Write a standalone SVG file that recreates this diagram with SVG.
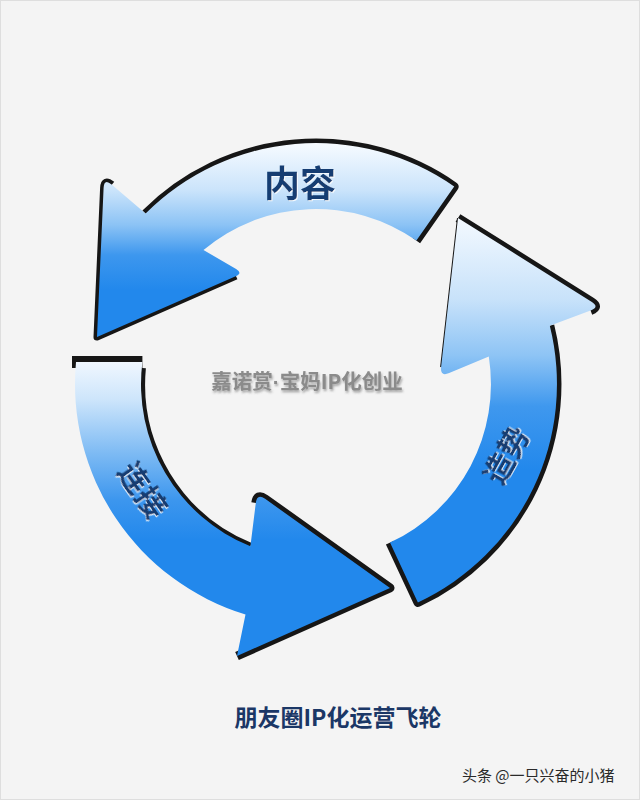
<svg xmlns="http://www.w3.org/2000/svg" width="640" height="800" viewBox="0 0 640 800">
  <style>
    .shadow { fill: none; stroke: #161616; stroke-linejoin: round; stroke-linecap: butt; }
    .label { font-family: "Noto Sans CJK SC", "Noto Sans", sans-serif; font-weight: bold; fill: #123d72; text-anchor: middle; }
    .center { font-family: "Noto Sans CJK SC", "Noto Sans", sans-serif; font-weight: bold; fill: #8b8b8b; text-anchor: middle; }
    .title { font-family: "Noto Sans CJK SC", "Noto Sans", sans-serif; font-weight: bold; fill: #1b3766; text-anchor: middle; }
    .mark { font-family: "Noto Sans CJK SC", "Noto Sans", sans-serif; fill: #2a2a2a; }
  </style>
  <defs>
    <linearGradient id="gTop" gradientUnits="userSpaceOnUse" x1="0" y1="145" x2="0" y2="290">
      <stop offset="0" stop-color="#f5faff"/>
      <stop offset="0.31" stop-color="#cbe4fb"/>
      <stop offset="0.55" stop-color="#8cc3f5"/>
      <stop offset="0.76" stop-color="#3d97ee"/>
      <stop offset="1" stop-color="#2288ec"/>
    </linearGradient>
    <linearGradient id="gRight" gradientUnits="userSpaceOnUse" x1="0" y1="215" x2="0" y2="470">
      <stop offset="0" stop-color="#f5faff"/>
      <stop offset="0.33" stop-color="#c8e2fa"/>
      <stop offset="0.55" stop-color="#8ec4f5"/>
      <stop offset="0.75" stop-color="#3f98ee"/>
      <stop offset="1" stop-color="#2288ec"/>
    </linearGradient>
    <linearGradient id="gBottom" gradientUnits="userSpaceOnUse" x1="0" y1="360" x2="0" y2="540">
      <stop offset="0" stop-color="#f2f8ff"/>
      <stop offset="0.22" stop-color="#cde5fb"/>
      <stop offset="0.5" stop-color="#82bdf4"/>
      <stop offset="0.78" stop-color="#3c96ee"/>
      <stop offset="1" stop-color="#2288ec"/>
    </linearGradient>
    <filter id="emboss" x="-20%" y="-20%" width="140%" height="140%">
      <feDropShadow dx="1" dy="1" stdDeviation="0.6" flood-color="#ffffff" flood-opacity="0.8"/>
    </filter>
    <filter id="grayShadow" x="-10%" y="-30%" width="120%" height="160%">
      <feDropShadow dx="1" dy="2" stdDeviation="1" flood-color="#555555" flood-opacity="0.5"/>
    </filter>
  </defs>

  <rect x="0" y="0" width="640" height="800" fill="#f4f4f4"/>
  <rect x="0.5" y="0.5" width="639" height="799" fill="none" stroke="#dedede" stroke-width="1"/>

  <g id="arrow-content">
    <path class="shadow" stroke-width="9" d="M 145.6,213.6 A 241 241 0 0 1 454.2,186.6 L 416.4,240.6"/>
    <path class="shadow" stroke-width="7" d="M 112,184.5 Q 104,178 103.6,188 L 97,337 L 236,276"/>
    <path fill="url(#gTop)" d="M 454.2,186.6 L 416.4,240.6 A 175 175 0 0 0 203.5,250 L 236.1,269 Q 243,273 235.7,276.2 L 97,337 L 103.6,188 Q 104,178 111.6,184.5 L 145.6,213.6 A 241 241 0 0 1 454.2,186.6 Z"/>
    <text class="label" x="300" y="197" font-size="36" filter="url(#emboss)">内容</text>
  </g>

  <g id="arrow-momentum">
    <path class="shadow" stroke-width="9" d="M 458,218 L 591.5,301.7 Q 600,307 590.6,310.5"/>
    <path class="shadow" stroke-width="9" d="M 549.8,325.7 A 241 241 0 0 1 417.9,602.4 L 390,542.6"/>
    <path class="shadow" stroke-width="2" d="M 441.1,367.1 L 458,218"/>
    <path fill="url(#gRight)" d="M 390,542.6 A 175 175 0 0 0 488.8,356.6 L 449.2,373.1 Q 440,377 441.1,367.1 L 458,218 L 591.5,301.7 Q 600,307 590.6,310.5 L 549.8,325.7 A 241 241 0 0 1 417.9,602.4 Z"/>
    <text class="label" font-size="30" filter="url(#emboss)" transform="translate(506,455) rotate(-61)" y="11">造势</text>
  </g>

  <g id="arrow-connect">
    <path class="shadow" stroke-width="12" d="M 72,362 L 142.4,362"/>
    <path class="shadow" stroke-width="7" d="M 142.4,368 A 175 175 0 0 0 250.4,546.3"/>
    <path class="shadow" stroke-width="9" d="M 255.8,502.9 Q 257,493 265.1,498.8 L 390,588 L 237,656"/>
    <path fill="url(#gBottom)" d="M 142.4,362 L 76,362 A 241 241 0 0 0 245.5,614.5 L 237,656 L 390,588 L 265.1,498.8 Q 257,493 255.8,502.9 L 250.4,546.3 A 175 175 0 0 1 142.4,362 Z"/>
    <text class="label" font-size="30" filter="url(#emboss)" transform="translate(143,490) rotate(55)" y="11">连接</text>
  </g>

  <g id="center-label">
    <text class="center" x="307" y="389" font-size="20.5" filter="url(#grayShadow)">嘉诺赏<tspan font-family="Liberation Sans, sans-serif">·</tspan>宝妈IP化创业</text>
  </g>

  <g id="title">
    <text class="title" x="338" y="726" font-size="23">朋友圈IP化运营飞轮</text>
  </g>

  <g id="watermark">
    <text class="mark" x="462" y="781" font-size="15">头条 @一只兴奋的小猪</text>
  </g>
</svg>
